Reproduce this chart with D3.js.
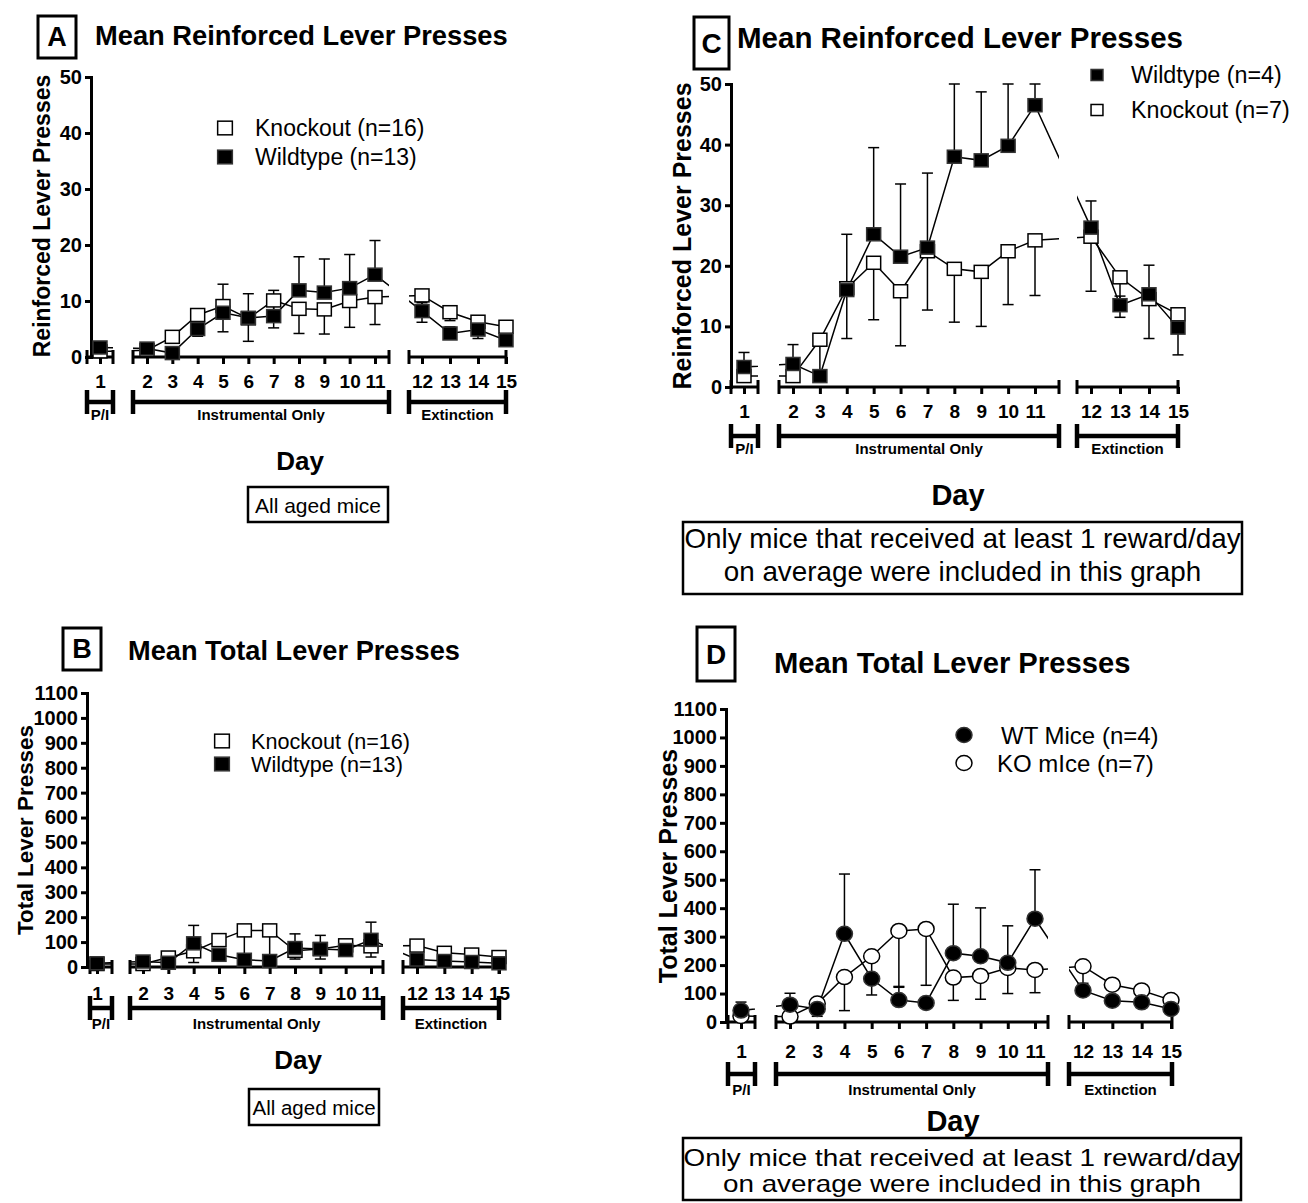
<!DOCTYPE html>
<html>
<head>
<meta charset="utf-8">
<script src="https://cdn.jsdelivr.net/npm/d3@7"></script>
<style>
body { margin: 0; background: #fff; }
svg { display: block; font-family: "Liberation Sans", Arial, sans-serif; }
</style>
</head>
<body>
<svg id="fig" width="1308" height="1203"></svg>
<script>
const days = d3.range(1, 16);
const phaseNames = ["P/I", "Instrumental Only", "Extinction"];
const reinfTicks = [0, 10, 20, 30, 40, 50];
const totalTicks = d3.range(0, 1101, 100);

// A - reinforced presses, all aged mice (KO bars go down, WT bars go up)
const aKO    = [1.0, 1.2, 3.6, 7.5, 9.1, 6.9, 10.1, 8.6, 8.5, 10.0, 10.7, 11.0, 8.0, 6.3, 5.4];
const aKOerr = [0.3, 0.3, 1.0, 3.8, 4.6, 4.1, 4.9, 4.4, 4.4, 4.7, 4.9, 4.8, 1.5, 3.0, 1.0];
const aWT    = [1.7, 1.5, 0.7, 5.0, 7.9, 7.0, 7.3, 11.9, 11.5, 12.3, 14.7, 8.2, 4.2, 4.9, 3.0];
const aWTerr = [0.5, 0.4, 0.3, 3.2, 5.1, 4.3, 4.6, 6.0, 6.0, 6.0, 6.1, 1.5, 1.2, 1.6, 1.0];

// B - total presses, all aged mice
const bKO    = [12, 12, 38, 63, 108, 147, 147, 65, 72, 87, 83, 86, 57, 50, 40];
const bKOerr = [5, 5, 10, 45, 20, 125, 125, 33, 40, 35, 43, 20, 15, 15, 10];
const bWT    = [15, 22, 17, 95, 49, 29, 24, 76, 72, 68, 109, 30, 24, 20, 15];
const bWTerr = [8, 10, 8, 72, 15, 10, 8, 57, 55, 40, 71, 12, 8, 6, 5];

// C - reinforced presses, mice with >= 1 reward/day
const cWT    = [3.3, 3.8, 1.8, 16.0, 25.2, 21.5, 23.0, 38.0, 37.4, 39.8, 46.5, 26.3, 13.5, 15.3, 9.8];
const cWTerr = [2.4, 3.2, 0.3, 9.2, 14.3, 12.0, 12.3, 13.0, 11.3, 11.0, 4.0, 4.4, 1.5, 4.8, 3.0];
const cKO    = [1.8, 1.8, 7.8, 16.3, 20.5, 15.8, 22.4, 19.5, 19.0, 22.4, 24.2, 24.8, 18.1, 14.5, 12.0];
const cKOerr = [0.5, 0.5, 5.5, 8.3, 9.4, 9.0, 9.7, 8.8, 9.0, 8.8, 9.1, 9.0, 6.6, 6.5, 6.7];

// D - total presses, mice with >= 1 reward/day
const dWT    = [40, 61, 46, 310, 152, 77, 67, 242, 231, 208, 363, 111, 75, 69, 46];
const dWTerr = [30, 40, 10, 210, 20, 45, 10, 172, 170, 130, 172, 15, 10, 10, 8];
const dKO    = [21, 19, 65, 158, 231, 320, 327, 156, 162, 190, 183, 196, 131, 111, 77];
const dKOerr = [5, 5, 45, 118, 136, 195, 198, 80, 82, 90, 80, 60, 15, 10, 8];

const noteAll = ["All aged mice"];
const noteSome = ["Only mice that received at least 1 reward/day", "on average were included in this graph"];

const panels = [
  {
    id: "A", title: "Mean Reinforced Lever  Presses", yTitle: "Reinforced Lever Presses",
    yMax: 50, ticks: reinfTicks, shape: "square", note: noteAll,
    series: [
      { name: "Knockout (n=16)", values: aKO, err: aKOerr, dir: -1, filled: false },
      { name: "Wildtype (n=13)", values: aWT, err: aWTerr, dir: 1, filled: true }
    ],
    L: {
      box: [38, 16, 38, 42], letterSize: 27, titleX: 95, titleY: 35, titleSize: 27.3,
      axisX: 91, y0: 357, y1: 77,
      segs: [{ days: [1, 1], px: [100, 100], ext: [87, 113] },
             { days: [2, 11], px: [147, 375], ext: [133, 389] },
             { days: [12, 15], px: [422, 506], ext: [409, 506] }],
      dayY: 381, brY: 402, brLabY: 414,
      yt: { x: 42, y: 216, size: 23 },
      legend: { x: 225, y: 128, dy: 29, tx: 255, size: 23, k: 1.05 },
      dayTitle: { x: 300, y: 461, size: 26 },
      noteBox: [248, 487, 140, 35], noteY: [505], noteSize: 21, noteSx: 1
    }
  },
  {
    id: "B", title: "Mean Total Lever  Presses", yTitle: "Total Lever Presses",
    yMax: 1100, ticks: totalTicks, shape: "square", note: noteAll,
    series: [
      { name: "Knockout (n=16)", values: bKO, err: bKOerr, dir: -1, filled: false },
      { name: "Wildtype (n=13)", values: bWT, err: bWTerr, dir: 1, filled: true }
    ],
    L: {
      box: [63, 628, 38, 42], letterSize: 27, titleX: 128, titleY: 650, titleSize: 27.2,
      axisX: 87, y0: 967, y1: 693,
      segs: [{ days: [1, 1], px: [97, 97], ext: [90, 112] },
             { days: [2, 11], px: [143, 371], ext: [130, 383] },
             { days: [12, 15], px: [417, 499], ext: [403, 499] }],
      dayY: 993, brY: 1008, brLabY: 1023,
      yt: { x: 25, y: 830, size: 22.4 },
      legend: { x: 222, y: 741, dy: 23, tx: 251, size: 21.6, k: 1.05 },
      dayTitle: { x: 298, y: 1060, size: 26 },
      noteBox: [249, 1089, 130, 36], noteY: [1107], noteSize: 20.5, noteSx: 1
    }
  },
  {
    id: "C", title: "Mean Reinforced Lever  Presses", yTitle: "Reinforced Lever Presses",
    yMax: 50, ticks: reinfTicks, shape: "square", note: noteSome,
    series: [
      { name: "Knockout (n=7)", values: cKO, err: cKOerr, dir: -1, filled: false },
      { name: "Wildtype (n=4)", values: cWT, err: cWTerr, dir: 1, filled: true }
    ],
    legendOrder: [1, 0],
    L: {
      box: [694, 17, 35, 52], letterSize: 28, titleX: 737, titleY: 37, titleSize: 29.5,
      axisX: 731, y0: 387, y1: 84,
      segs: [{ days: [1, 1], px: [744, 744], ext: [731, 758] },
             { days: [2, 11], px: [793, 1035], ext: [779, 1059] },
             { days: [12, 15], px: [1091, 1178], ext: [1077, 1178] }],
      dayY: 411, brY: 436, brLabY: 448,
      yt: { x: 682, y: 236, size: 25 },
      legend: { x: 1097, y: 75, dy: 35, tx: 1131, size: 23.3, k: 0.85 },
      dayTitle: { x: 958, y: 495, size: 29 },
      noteBox: [683, 522, 559, 72], noteY: [538, 571], noteSize: 27.8, noteSx: 1
    }
  },
  {
    id: "D", title: "Mean Total Lever  Presses", yTitle: "Total Lever Presses",
    yMax: 1100, ticks: totalTicks, shape: "circle", note: noteSome,
    series: [
      { name: "KO mIce (n=7)", values: dKO, err: dKOerr, dir: -1, filled: false },
      { name: "WT Mice (n=4)", values: dWT, err: dWTerr, dir: 1, filled: true }
    ],
    legendOrder: [1, 0],
    L: {
      box: [697, 627, 38, 54], letterSize: 28, titleX: 774, titleY: 663, titleSize: 29.2,
      axisX: 726, y0: 1022, y1: 709,
      segs: [{ days: [1, 1], px: [741, 741], ext: [728, 755] },
             { days: [2, 11], px: [790, 1035], ext: [776, 1048] },
             { days: [12, 15], px: [1083, 1171], ext: [1069, 1172] }],
      dayY: 1051, brY: 1074, brLabY: 1089,
      yt: { x: 668, y: 866, size: 25 },
      legend: { x: 964, y: 735, dy: 28, tx: 997, size: 24, k: 1.1, nudge: [4, 0] },
      dayTitle: { x: 953, y: 1121, size: 29 },
      noteBox: [683, 1138, 558, 62], noteY: [1158, 1184], noteSize: 24, noteSx: 1.16
    }
  }
];

const svg = d3.select("#fig");

function putText(g, x, y, str, size, bold, anchor, sx) {
  return g.append("text")
    .attr("transform", `translate(${x},${y}) scale(${sx || 1},1)`)
    .attr("text-anchor", anchor || "middle")
    .attr("dominant-baseline", "central")
    .attr("font-size", size)
    .attr("font-weight", bold ? "bold" : "normal")
    .attr("fill", "#000")
    .text(str);
}

function marker(g, shape, filled, x, y, k) {
  k = k || 1;
  const m = shape === "square"
    ? g.append("rect").attr("x", x - 7 * k).attr("y", y - 6.5 * k).attr("width", 14 * k).attr("height", 13 * k)
    : g.append("ellipse").attr("cx", x).attr("cy", y).attr("rx", 8 * k).attr("ry", 7.5 * k);
  m.attr("fill", filled ? "#000" : "#fff")
    .attr("stroke", filled ? "#333" : "#000")
    .attr("stroke-width", 1.5);
}

function drawPanel(p) {
  const L = p.L;
  const g = svg.append("g");
  const y = d3.scaleLinear().domain([0, p.yMax]).range([L.y0, L.y1]);

  const inner = L.segs[1];
  const step = (inner.px[1] - inner.px[0]) / (inner.days[1] - inner.days[0]);
  const segs = L.segs.map((s, i) => {
    const x = s.days[0] === s.days[1]
      ? d3.scaleLinear().domain([s.days[0], s.days[0] + 1]).range([s.px[0], s.px[0] + step])
      : d3.scaleLinear().domain(s.days).range(s.px);
    return { ...s, x, name: phaseNames[i], members: days.filter(d => d >= s.days[0] && d <= s.days[1]) };
  });
  const xOf = d => segs.find(s => d >= s.days[0] && d <= s.days[1]).x(d);

  // lines run straight from point to point, hidden where the axis is broken
  const clipId = "clip" + p.id;
  const clip = g.append("clipPath").attr("id", clipId);
  segs.forEach(s => clip.append("rect")
    .attr("x", s.ext[0]).attr("width", s.ext[1] - s.ext[0])
    .attr("y", 0).attr("height", 1203));

  // y axis
  const ya = g.append("g").attr("transform", `translate(${L.axisX},0)`)
    .call(d3.axisLeft(y).tickValues(p.ticks).tickSize(6).tickSizeOuter(0).tickPadding(3).tickFormat(d3.format("d")));
  ya.attr("font-size", 20).attr("font-weight", "bold").attr("font-family", null);
  ya.select(".domain").attr("stroke-width", 3).attr("stroke-linecap", "square");
  ya.selectAll(".tick line").attr("stroke-width", 3);
  ya.selectAll(".tick text").attr("fill", "#000");

  // broken x axis
  segs.forEach(s => {
    const xa = g.append("g").attr("transform", `translate(0,${L.y0})`)
      .call(d3.axisBottom(s.x).tickValues(s.members).tickSize(7).tickSizeOuter(0).tickFormat(d3.format("d")));
    xa.attr("font-size", 19).attr("font-weight", "bold").attr("font-family", null);
    xa.select(".domain").remove();
    xa.selectAll(".tick line").attr("stroke-width", 3);
    xa.selectAll(".tick text").attr("fill", "#000")
      .attr("y", L.dayY - L.y0).attr("dy", "0.35em");
    g.append("line").attr("x1", s.ext[0]).attr("x2", s.ext[1]).attr("y1", L.y0).attr("y2", L.y0)
      .attr("stroke", "#000").attr("stroke-width", 3);
    s.ext.forEach(e => g.append("line").attr("x1", e).attr("x2", e)
      .attr("y1", L.y0 - 7).attr("y2", L.y0 + 7).attr("stroke", "#000").attr("stroke-width", 3));

    // phase bracket
    g.append("line").attr("x1", s.ext[0]).attr("x2", s.ext[1]).attr("y1", L.brY).attr("y2", L.brY)
      .attr("stroke", "#000").attr("stroke-width", 4.5);
    s.ext.forEach(e => g.append("line").attr("x1", e).attr("x2", e)
      .attr("y1", L.brY - 12).attr("y2", L.brY + 12).attr("stroke", "#000").attr("stroke-width", 4.5));
    putText(g, (s.ext[0] + s.ext[1]) / 2, L.brLabY, s.name, 15, true);
  });

  // series: open first, filled on top
  p.series.forEach(sr => {
    const line = d3.line().x((v, i) => xOf(days[i])).y(v => y(v));
    g.append("path").datum(sr.values).attr("d", line)
      .attr("fill", "none").attr("stroke", "#000").attr("stroke-width", 1.5)
      .attr("clip-path", `url(#${clipId})`);
    sr.values.forEach((v, i) => {
      if (!sr.err[i]) return;
      const cx = xOf(days[i]);
      const end = Math.max(0, Math.min(p.yMax, v + sr.dir * sr.err[i]));
      g.append("line").attr("x1", cx).attr("x2", cx).attr("y1", y(v)).attr("y2", y(end))
        .attr("stroke", "#000").attr("stroke-width", 1.5);
      g.append("line").attr("x1", cx - 5.5).attr("x2", cx + 5.5).attr("y1", y(end)).attr("y2", y(end))
        .attr("stroke", "#000").attr("stroke-width", 1.5);
    });
  });
  p.series.forEach(sr => {
    sr.values.forEach((v, i) => marker(g, p.shape, sr.filled, xOf(days[i]), y(v)));
  });

  // y title
  g.append("text")
    .attr("transform", `translate(${L.yt.x},${L.yt.y}) rotate(-90)`)
    .attr("text-anchor", "middle").attr("dominant-baseline", "central")
    .attr("font-size", L.yt.size).attr("font-weight", "bold")
    .text(p.yTitle);

  // legend
  const order = p.legendOrder || [0, 1];
  order.forEach((si, j) => {
    const sr = p.series[si];
    const ly = L.legend.y + j * L.legend.dy;
    const nudge = (L.legend.nudge || [0, 0])[j];
    marker(g, p.shape, sr.filled, L.legend.x, ly, p.shape === "circle" ? 1 : L.legend.k);
    putText(g, L.legend.tx + nudge, ly, sr.name, L.legend.size, false, "start");
  });

  // panel letter and title
  const [bx, by, bw, bh] = L.box;
  g.append("rect").attr("x", bx).attr("y", by).attr("width", bw).attr("height", bh)
    .attr("fill", "none").attr("stroke", "#000").attr("stroke-width", 3);
  putText(g, bx + bw / 2, by + bh / 2, p.id, L.letterSize, true);
  putText(g, L.titleX, L.titleY, p.title, L.titleSize, true, "start");

  // x title and note
  putText(g, L.dayTitle.x, L.dayTitle.y, "Day", L.dayTitle.size, true);
  const [nx, ny, nw, nh] = L.noteBox;
  g.append("rect").attr("x", nx).attr("y", ny).attr("width", nw).attr("height", nh)
    .attr("fill", "none").attr("stroke", "#000").attr("stroke-width", 2.5);
  p.note.forEach((t, i) => putText(g, nx + nw / 2, L.noteY[i], t, L.noteSize, false, "middle", L.noteSx));
}

panels.forEach(drawPanel);
</script>
</body>
</html>
